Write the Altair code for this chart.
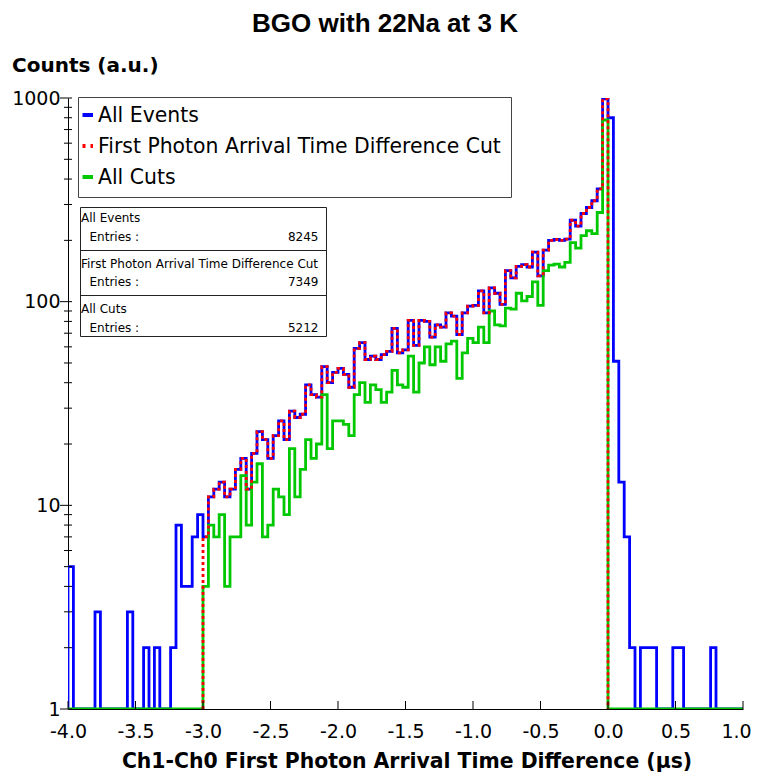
import altair as alt
import pandas as pd

# ---------------- data ----------------
BIN_START = -4.0
BIN_WIDTH = 0.04

# All Events: 125 bins from -4.00 to 1.00
all_events = [5, 0, 0, 0, 0, 3, 0, 0, 0, 0, 0, 3, 0, 0, 2, 0, 2, 0, 0, 2, 8, 4, 4, 7, 9,
              7, 11, 12, 13, 11, 12, 15, 17, 12, 18, 23, 21, 17, 22, 26, 21, 29, 27, 28,
              39, 35, 34, 48, 40, 45, 47, 44, 38, 59, 63, 52, 54, 52, 55, 57, 74, 56, 58,
              81, 61, 81, 80, 67, 77, 75, 88, 85, 69, 88, 95, 96, 113, 88, 117, 110, 97, 142,
              131, 149, 152, 148, 175, 134, 179, 200, 202, 200, 203, 251, 235, 271, 290, 313, 358, 990,
              800, 51, 13, 7, 2, 0, 2, 2, 2, 0, 0, 0, 2, 2, 0, 0, 0, 0, 0, 2, 0, 0, 0, 0, 0]

# First Photon Arrival Time Difference Cut: bins 25..99 (-3.00 .. 0.00)
cut_start_bin = 25
first_photon_cut = [7, 11, 12, 13, 11, 12, 15, 17, 12, 18, 23, 21, 17, 22, 26, 21, 29, 27, 28,
                    39, 35, 34, 48, 40, 45, 47, 44, 38, 59, 63, 52, 54, 52, 55, 57, 74, 56, 58,
                    81, 61, 81, 80, 67, 77, 75, 88, 85, 69, 88, 95, 96, 113, 88, 117, 110, 97, 142,
                    131, 149, 152, 148, 175, 134, 179, 200, 202, 200, 203, 251, 235, 271, 290, 313, 358, 990]

# All Cuts: bins 25..99
all_cuts = [4, 8, 7, 9, 4, 7, 7, 14, 8, 13, 16, 7, 8, 12, 11, 9, 19, 11, 15,
            21, 17, 20, 35, 19, 26, 26, 25, 22, 35, 40, 32, 39, 37, 32, 36, 46, 39, 38,
            54, 36, 50, 60, 49, 60, 51, 62, 64, 42, 56, 66, 63, 75, 63, 90, 77, 76, 93,
            92, 110, 101, 106, 125, 96, 142, 151, 153, 148, 156, 195, 183, 211, 223, 216, 274, 780]

series_names = ["All Events", "First Photon Arrival Time Difference Cut", "All Cuts"]
series_colors = ["#0000FF", "#FF0000", "#00C800"]
entries = ["8245", "7349", "5212"]

x_ticks = [-4.0, -3.5, -3.0, -2.5, -2.0, -1.5, -1.0, -0.5, 0.0, 0.5, 1.0]
y_major = [1, 10, 100, 1000]
y_minor = [2, 3, 4, 5, 6, 7, 8, 9, 20, 30, 40, 50, 60, 70, 80, 90,
           200, 300, 400, 500, 600, 700, 800, 900]

# ---------------- layout ----------------
W, H = 675, 611
FONT = "DejaVu Sans"


def step_frame(start_bin, counts):
    rows = []
    lo = round(BIN_START + start_bin * BIN_WIDTH, 4)
    rows.append((lo, 1))
    for k, c in enumerate(counts):
        rows.append((round(BIN_START + (start_bin + k) * BIN_WIDTH, 4), max(c, 1)))
    rows.append((round(BIN_START + (start_bin + len(counts)) * BIN_WIDTH, 4), 1))
    df = pd.DataFrame(rows, columns=["x", "y"])
    df["i"] = range(len(df))
    return df


xs = alt.Scale(domain=[-4, 1], nice=False, zero=False)
ys = alt.Scale(type="log", domain=[1, 1000], nice=False)

x_axis = alt.Axis(values=x_ticks, labelExpr="(datum.value < 0 ? '-' : '') + format(abs(datum.value), '.1f')",
                  ticks=False, grid=False, domainColor="black", domainWidth=1,
                  labelFontSize=19, labelFont=FONT, labelColor="black", labelPadding=13, title=None,
                  labelOverlap=False, labelFlush=False,
                  labelOffset={"condition": {"test": "datum.value >= 1", "value": -7}, "value": 0})
y_axis = alt.Axis(values=y_major, format="d", ticks=False, grid=False, domainColor="black", domainWidth=1,
                  labelFontSize=19, labelFont=FONT, labelColor="black", labelPadding=8, title=None,
                  labelOverlap=False, labelFlush=False)


def X(field):
    return alt.X(field, scale=xs, axis=x_axis)


def Y(field):
    return alt.Y(field, scale=ys, axis=y_axis)


blue = alt.Chart(step_frame(0, all_events)).mark_line(
    interpolate="step-after", color=series_colors[0], strokeWidth=2.8, clip=True
).encode(x=X("x:Q"), y=Y("y:Q"), order="i:Q")

green_full = [0] * cut_start_bin + all_cuts + [0] * (len(all_events) - cut_start_bin - len(all_cuts))
green = alt.Chart(step_frame(0, green_full)).mark_line(
    interpolate="step-after", color=series_colors[2], strokeWidth=2.8, clip=True
).encode(x=X("x:Q"), y=Y("y:Q"), order="i:Q")

red = alt.Chart(step_frame(cut_start_bin, first_photon_cut)).mark_line(
    interpolate="step-after", color=series_colors[1], strokeWidth=2.8, strokeDash=[3, 3], clip=True
).encode(x=X("x:Q"), y=Y("y:Q"), order="i:Q")

# axis ticks
y_major_ticks = alt.Chart(pd.DataFrame({"v": y_major})).mark_rule(color="black", strokeWidth=1).encode(
    y=Y("v:Q"), x=alt.value(-8), x2=alt.value(4))
y_minor_ticks = alt.Chart(pd.DataFrame({"v": y_minor})).mark_rule(color="black", strokeWidth=1).encode(
    y=Y("v:Q"), x=alt.value(-4), x2=alt.value(4))
x_tick_marks = alt.Chart(pd.DataFrame({"t": x_ticks})).mark_rule(color="black", strokeWidth=1).encode(
    x=X("t:Q"), y=alt.value(H - 8), y2=alt.value(H))

# legend box
one = pd.DataFrame({"a": [0]})
legend_box = alt.Chart(one).mark_rect(fill="white", stroke="#444444", strokeWidth=1).encode(
    x=alt.value(10.5), x2=alt.value(443.5), y=alt.value(-0.5), y2=alt.value(99.5))
leg_rows_y = [18, 49, 80]
leg_df = pd.DataFrame({"name": series_names, "py": leg_rows_y, "color": series_colors})
legend_text = alt.Chart(leg_df).mark_text(align="left", baseline="middle", fontSize=20.4, font=FONT,
                                          color="black").encode(
    x=alt.value(30), y=alt.Y("py:Q", scale=None), text="name:N")
leg_sym = []
for k in range(3):
    kw = dict(color=series_colors[k], strokeWidth=4)
    if k == 1:
        kw["strokeDash"] = [3, 5]
    leg_sym.append(alt.Chart(one).mark_rule(**kw).encode(
        x=alt.value(14.5), x2=alt.value(25), y=alt.value(leg_rows_y[k] - 1), y2=alt.value(leg_rows_y[k] - 1)))

# statistics box
stats_box = alt.Chart(one).mark_rect(fill="white", stroke="#222222", strokeWidth=1).encode(
    x=alt.value(12.5), x2=alt.value(258.5), y=alt.value(109.5), y2=alt.value(238.5))
sep_df = pd.DataFrame({"py": [152.5, 197.5]})
stats_sep = alt.Chart(sep_df).mark_rule(color="#222222", strokeWidth=1).encode(
    y=alt.Y("py:Q", scale=None), x=alt.value(12.5), x2=alt.value(258.5))
head_df = pd.DataFrame({"name": series_names, "py": [120, 165.5, 211]})
stats_head = alt.Chart(head_df).mark_text(align="left", baseline="middle", fontSize=12, font=FONT,
                                          color="black").encode(
    x=alt.value(13), y=alt.Y("py:Q", scale=None), text="name:N")
ent_df = pd.DataFrame({"label": ["Entries :"] * 3, "num": entries, "py": [138.5, 184, 229.5]})
stats_ent = alt.Chart(ent_df).mark_text(align="left", baseline="middle", fontSize=12, font=FONT,
                                        color="black").encode(
    x=alt.value(21.5), y=alt.Y("py:Q", scale=None), text="label:N")
stats_num = alt.Chart(ent_df).mark_text(align="right", baseline="middle", fontSize=12, font=FONT,
                                        color="black").encode(
    x=alt.value(250.5), y=alt.Y("py:Q", scale=None), text="num:N")

# titles
title_txt = alt.Chart(one).mark_text(text="BGO with 22Na at 3 K", align="center", baseline="middle",
                                     fontSize=26, font="Liberation Sans", fontWeight="bold",
                                     color="black").encode(x=alt.value(317), y=alt.value(-74))
ytitle_txt = alt.Chart(one).mark_text(text="Counts (a.u.)", align="left", baseline="middle",
                                      fontSize=20, font=FONT, fontWeight="bold",
                                      color="black").encode(x=alt.value(-56), y=alt.value(-32))
xtitle_txt = alt.Chart(one).mark_text(text="Ch1-Ch0 First Photon Arrival Time Difference (µs)",
                                      align="center", baseline="middle",
                                      fontSize=20.4, font=FONT, fontWeight="bold",
                                      color="black").encode(x=alt.value(339), y=alt.value(664))

chart = alt.layer(
    blue, green, red,
    y_major_ticks, y_minor_ticks, x_tick_marks,
    legend_box, *leg_sym, legend_text,
    stats_box, stats_sep, stats_head, stats_ent, stats_num,
    title_txt, ytitle_txt, xtitle_txt,
).properties(
    width=W, height=H,
    padding={"left": 60, "top": 90, "right": 8, "bottom": 67},
    autosize=alt.AutoSizeParams(type="none"),
    background="white",
).configure_view(stroke=None)

chart.save("out.html", embed_options={"renderer": "svg", "actions": False})
